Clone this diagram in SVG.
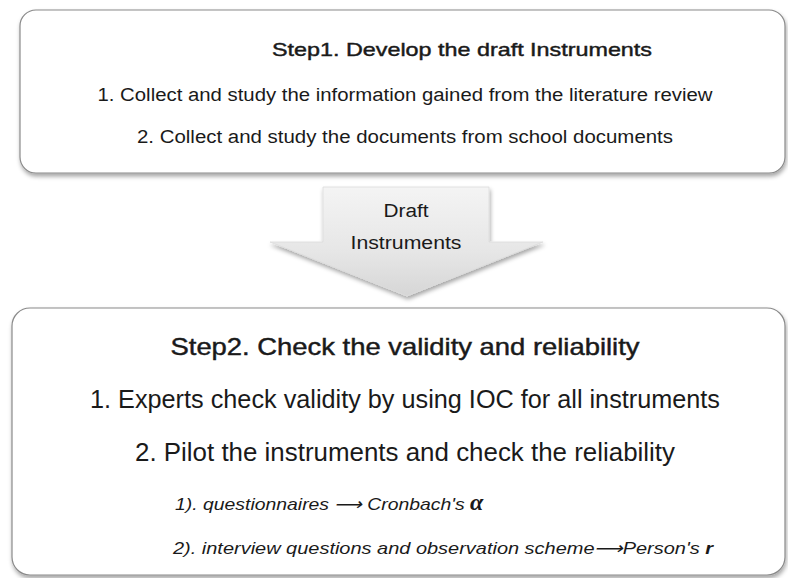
<svg xmlns="http://www.w3.org/2000/svg" width="788" height="578" viewBox="0 0 788 578">
<defs>
<filter id="sh" x="-5%" y="-5%" width="110%" height="115%">
<feDropShadow dx="1" dy="3" stdDeviation="2" flood-color="#000" flood-opacity="0.35"/>
</filter>
<linearGradient id="ag" x1="0" y1="0" x2="0" y2="1">
<stop offset="0" stop-color="#f4f4f4"/>
<stop offset="0.6" stop-color="#e6e6e6"/>
<stop offset="1" stop-color="#d6d6d6"/>
</linearGradient>
<style>
.box{fill:#fff;stroke:#8a8a8a;stroke-width:1.2}
.t{font-family:"Liberation Sans","Noto Sans",sans-serif;fill:#1a1a1a;text-anchor:middle}
.s{font-family:"Liberation Sans","Noto Sans",sans-serif;fill:#1a1a1a}
.semi{stroke:#1a1a1a;stroke-width:0.45}
</style>
</defs>
<g id="step1">
<rect class="box" x="20" y="10" width="765" height="163" rx="16" filter="url(#sh)"/>
<text class="t semi" x="462" y="56" font-size="19" textLength="380" lengthAdjust="spacingAndGlyphs">Step1. Develop the draft Instruments</text>
<text class="t" x="405" y="101" font-size="18" textLength="615" lengthAdjust="spacingAndGlyphs">1. Collect and study the information gained from the literature review</text>
<text class="t" x="405" y="143" font-size="18" textLength="536" lengthAdjust="spacingAndGlyphs">2. Collect and study the documents from school documents</text>
</g>
<g id="connectors">
<g id="arrow">
<path d="M323,187 L489,187 L489,242 L543,242 L407,296 L270,242 L323,242 Z" fill="url(#ag)" stroke="#dcdcdc" stroke-width="0.8" filter="url(#sh)"/>
<text class="t" x="406" y="217" font-size="18" textLength="45" lengthAdjust="spacingAndGlyphs">Draft</text>
<text class="t" x="406" y="249" font-size="18" textLength="111" lengthAdjust="spacingAndGlyphs">Instruments</text>
</g>
</g>
<g id="step2">
<rect class="box" x="12" y="308" width="773" height="267" rx="18" filter="url(#sh)"/>
<text class="t semi" x="405" y="355" font-size="24" textLength="469" lengthAdjust="spacingAndGlyphs">Step2. Check the validity and reliability</text>
<text class="t" x="405" y="408" font-size="25" textLength="630" lengthAdjust="spacingAndGlyphs">1. Experts check validity by using IOC for all instruments</text>
<text class="t" x="405" y="461" font-size="25" textLength="540" lengthAdjust="spacingAndGlyphs">2. Pilot the instruments and check the reliability</text>
<text class="s" x="175" y="510" font-size="17" font-style="italic"><tspan textLength="295" lengthAdjust="spacingAndGlyphs">1). questionnaires ⟶ Cronbach's </tspan><tspan font-size="24" font-family="Liberation Serif,serif" font-weight="bold">α</tspan></text>
<text class="s" x="173" y="554" font-size="17" font-style="italic" textLength="540" lengthAdjust="spacingAndGlyphs">2). interview questions and observation scheme⟶Person's <tspan font-weight="bold">r</tspan></text>
</g>
</svg>
